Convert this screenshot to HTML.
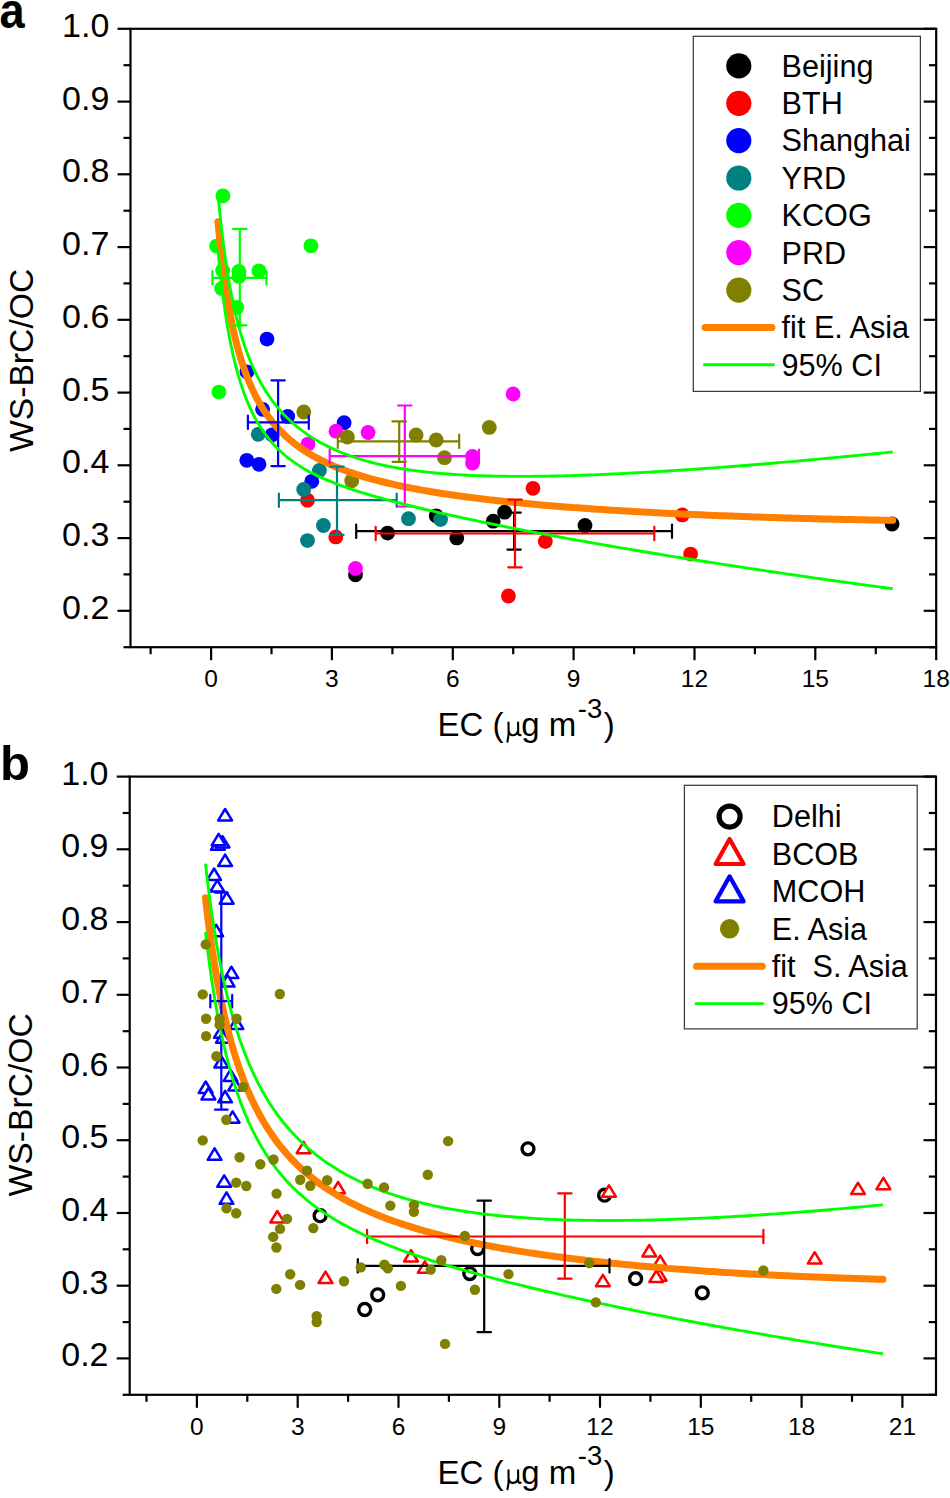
<!DOCTYPE html>
<html><head><meta charset="utf-8"><style>
html,body{margin:0;padding:0;background:#fff;width:950px;height:1498px;overflow:hidden;position:relative}
</style></head><body>
<svg width="950" height="1498" viewBox="0 0 950 1498" style="position:absolute;left:0;top:0">
<g font-family='"Liberation Sans", sans-serif' fill="#000">
<rect x="0" y="0" width="950" height="1498" fill="#fff"/>
<text transform="translate(-0.6,28.0) scale(0.942,1.058)" x="0" y="0" font-size="48" font-weight="bold">a</text>
<text x="0" y="780" font-size="49" font-weight="bold">b</text>
<rect x="130.5" y="28.8" width="805.7" height="618.4" fill="none" stroke="#000" stroke-width="2.2"/>
<line x1="123.5" y1="647.2" x2="130.5" y2="647.2" stroke="#000" stroke-width="2.2"/>
<line x1="929.0" y1="647.2" x2="936.2" y2="647.2" stroke="#000" stroke-width="2.2"/>
<line x1="117.5" y1="610.8" x2="130.5" y2="610.8" stroke="#000" stroke-width="2.2"/>
<line x1="923.7" y1="610.8" x2="936.2" y2="610.8" stroke="#000" stroke-width="2.2"/>
<text x="109.3" y="618.8" font-size="34" text-anchor="end">0.2</text>
<line x1="123.5" y1="574.4" x2="130.5" y2="574.4" stroke="#000" stroke-width="2.2"/>
<line x1="929.0" y1="574.4" x2="936.2" y2="574.4" stroke="#000" stroke-width="2.2"/>
<line x1="117.5" y1="538.1" x2="130.5" y2="538.1" stroke="#000" stroke-width="2.2"/>
<line x1="923.7" y1="538.1" x2="936.2" y2="538.1" stroke="#000" stroke-width="2.2"/>
<text x="109.3" y="546.1" font-size="34" text-anchor="end">0.3</text>
<line x1="123.5" y1="501.7" x2="130.5" y2="501.7" stroke="#000" stroke-width="2.2"/>
<line x1="929.0" y1="501.7" x2="936.2" y2="501.7" stroke="#000" stroke-width="2.2"/>
<line x1="117.5" y1="465.3" x2="130.5" y2="465.3" stroke="#000" stroke-width="2.2"/>
<line x1="923.7" y1="465.3" x2="936.2" y2="465.3" stroke="#000" stroke-width="2.2"/>
<text x="109.3" y="473.3" font-size="34" text-anchor="end">0.4</text>
<line x1="123.5" y1="428.9" x2="130.5" y2="428.9" stroke="#000" stroke-width="2.2"/>
<line x1="929.0" y1="428.9" x2="936.2" y2="428.9" stroke="#000" stroke-width="2.2"/>
<line x1="117.5" y1="392.6" x2="130.5" y2="392.6" stroke="#000" stroke-width="2.2"/>
<line x1="923.7" y1="392.6" x2="936.2" y2="392.6" stroke="#000" stroke-width="2.2"/>
<text x="109.3" y="400.6" font-size="34" text-anchor="end">0.5</text>
<line x1="123.5" y1="356.2" x2="130.5" y2="356.2" stroke="#000" stroke-width="2.2"/>
<line x1="929.0" y1="356.2" x2="936.2" y2="356.2" stroke="#000" stroke-width="2.2"/>
<line x1="117.5" y1="319.8" x2="130.5" y2="319.8" stroke="#000" stroke-width="2.2"/>
<line x1="923.7" y1="319.8" x2="936.2" y2="319.8" stroke="#000" stroke-width="2.2"/>
<text x="109.3" y="327.8" font-size="34" text-anchor="end">0.6</text>
<line x1="123.5" y1="283.4" x2="130.5" y2="283.4" stroke="#000" stroke-width="2.2"/>
<line x1="929.0" y1="283.4" x2="936.2" y2="283.4" stroke="#000" stroke-width="2.2"/>
<line x1="117.5" y1="247.1" x2="130.5" y2="247.1" stroke="#000" stroke-width="2.2"/>
<line x1="923.7" y1="247.1" x2="936.2" y2="247.1" stroke="#000" stroke-width="2.2"/>
<text x="109.3" y="255.1" font-size="34" text-anchor="end">0.7</text>
<line x1="123.5" y1="210.7" x2="130.5" y2="210.7" stroke="#000" stroke-width="2.2"/>
<line x1="929.0" y1="210.7" x2="936.2" y2="210.7" stroke="#000" stroke-width="2.2"/>
<line x1="117.5" y1="174.3" x2="130.5" y2="174.3" stroke="#000" stroke-width="2.2"/>
<line x1="923.7" y1="174.3" x2="936.2" y2="174.3" stroke="#000" stroke-width="2.2"/>
<text x="109.3" y="182.3" font-size="34" text-anchor="end">0.8</text>
<line x1="123.5" y1="137.9" x2="130.5" y2="137.9" stroke="#000" stroke-width="2.2"/>
<line x1="929.0" y1="137.9" x2="936.2" y2="137.9" stroke="#000" stroke-width="2.2"/>
<line x1="117.5" y1="101.6" x2="130.5" y2="101.6" stroke="#000" stroke-width="2.2"/>
<line x1="923.7" y1="101.6" x2="936.2" y2="101.6" stroke="#000" stroke-width="2.2"/>
<text x="109.3" y="109.6" font-size="34" text-anchor="end">0.9</text>
<line x1="123.5" y1="65.2" x2="130.5" y2="65.2" stroke="#000" stroke-width="2.2"/>
<line x1="929.0" y1="65.2" x2="936.2" y2="65.2" stroke="#000" stroke-width="2.2"/>
<line x1="117.5" y1="28.8" x2="130.5" y2="28.8" stroke="#000" stroke-width="2.2"/>
<line x1="923.7" y1="28.8" x2="936.2" y2="28.8" stroke="#000" stroke-width="2.2"/>
<text x="109.3" y="36.8" font-size="34" text-anchor="end">1.0</text>
<line x1="211.1" y1="647.2" x2="211.1" y2="660.2" stroke="#000" stroke-width="2.2"/>
<text x="211.1" y="686.7" font-size="24.5" text-anchor="middle">0</text>
<line x1="331.9" y1="647.2" x2="331.9" y2="660.2" stroke="#000" stroke-width="2.2"/>
<text x="331.9" y="686.7" font-size="24.5" text-anchor="middle">3</text>
<line x1="452.8" y1="647.2" x2="452.8" y2="660.2" stroke="#000" stroke-width="2.2"/>
<text x="452.8" y="686.7" font-size="24.5" text-anchor="middle">6</text>
<line x1="573.6" y1="647.2" x2="573.6" y2="660.2" stroke="#000" stroke-width="2.2"/>
<text x="573.6" y="686.7" font-size="24.5" text-anchor="middle">9</text>
<line x1="694.5" y1="647.2" x2="694.5" y2="660.2" stroke="#000" stroke-width="2.2"/>
<text x="694.5" y="686.7" font-size="24.5" text-anchor="middle">12</text>
<line x1="815.3" y1="647.2" x2="815.3" y2="660.2" stroke="#000" stroke-width="2.2"/>
<text x="815.3" y="686.7" font-size="24.5" text-anchor="middle">15</text>
<line x1="936.2" y1="647.2" x2="936.2" y2="660.2" stroke="#000" stroke-width="2.2"/>
<text x="936.2" y="686.7" font-size="24.5" text-anchor="middle">18</text>
<line x1="150.6" y1="647.2" x2="150.6" y2="654.2" stroke="#000" stroke-width="2.2"/>
<line x1="271.5" y1="647.2" x2="271.5" y2="654.2" stroke="#000" stroke-width="2.2"/>
<line x1="392.4" y1="647.2" x2="392.4" y2="654.2" stroke="#000" stroke-width="2.2"/>
<line x1="513.2" y1="647.2" x2="513.2" y2="654.2" stroke="#000" stroke-width="2.2"/>
<line x1="634.1" y1="647.2" x2="634.1" y2="654.2" stroke="#000" stroke-width="2.2"/>
<line x1="754.9" y1="647.2" x2="754.9" y2="654.2" stroke="#000" stroke-width="2.2"/>
<line x1="875.8" y1="647.2" x2="875.8" y2="654.2" stroke="#000" stroke-width="2.2"/>
<rect x="129.7" y="776.6" width="806.3" height="618.2" fill="none" stroke="#000" stroke-width="2.2"/>
<line x1="122.7" y1="1394.8" x2="129.7" y2="1394.8" stroke="#000" stroke-width="2.2"/>
<line x1="928.8" y1="1394.8" x2="936.0" y2="1394.8" stroke="#000" stroke-width="2.2"/>
<line x1="116.7" y1="1358.4" x2="129.7" y2="1358.4" stroke="#000" stroke-width="2.2"/>
<line x1="923.5" y1="1358.4" x2="936.0" y2="1358.4" stroke="#000" stroke-width="2.2"/>
<text x="108.5" y="1366.4" font-size="34" text-anchor="end">0.2</text>
<line x1="122.7" y1="1322.1" x2="129.7" y2="1322.1" stroke="#000" stroke-width="2.2"/>
<line x1="928.8" y1="1322.1" x2="936.0" y2="1322.1" stroke="#000" stroke-width="2.2"/>
<line x1="116.7" y1="1285.7" x2="129.7" y2="1285.7" stroke="#000" stroke-width="2.2"/>
<line x1="923.5" y1="1285.7" x2="936.0" y2="1285.7" stroke="#000" stroke-width="2.2"/>
<text x="108.5" y="1293.7" font-size="34" text-anchor="end">0.3</text>
<line x1="122.7" y1="1249.3" x2="129.7" y2="1249.3" stroke="#000" stroke-width="2.2"/>
<line x1="928.8" y1="1249.3" x2="936.0" y2="1249.3" stroke="#000" stroke-width="2.2"/>
<line x1="116.7" y1="1213.0" x2="129.7" y2="1213.0" stroke="#000" stroke-width="2.2"/>
<line x1="923.5" y1="1213.0" x2="936.0" y2="1213.0" stroke="#000" stroke-width="2.2"/>
<text x="108.5" y="1221.0" font-size="34" text-anchor="end">0.4</text>
<line x1="122.7" y1="1176.6" x2="129.7" y2="1176.6" stroke="#000" stroke-width="2.2"/>
<line x1="928.8" y1="1176.6" x2="936.0" y2="1176.6" stroke="#000" stroke-width="2.2"/>
<line x1="116.7" y1="1140.2" x2="129.7" y2="1140.2" stroke="#000" stroke-width="2.2"/>
<line x1="923.5" y1="1140.2" x2="936.0" y2="1140.2" stroke="#000" stroke-width="2.2"/>
<text x="108.5" y="1148.2" font-size="34" text-anchor="end">0.5</text>
<line x1="122.7" y1="1103.9" x2="129.7" y2="1103.9" stroke="#000" stroke-width="2.2"/>
<line x1="928.8" y1="1103.9" x2="936.0" y2="1103.9" stroke="#000" stroke-width="2.2"/>
<line x1="116.7" y1="1067.5" x2="129.7" y2="1067.5" stroke="#000" stroke-width="2.2"/>
<line x1="923.5" y1="1067.5" x2="936.0" y2="1067.5" stroke="#000" stroke-width="2.2"/>
<text x="108.5" y="1075.5" font-size="34" text-anchor="end">0.6</text>
<line x1="122.7" y1="1031.2" x2="129.7" y2="1031.2" stroke="#000" stroke-width="2.2"/>
<line x1="928.8" y1="1031.2" x2="936.0" y2="1031.2" stroke="#000" stroke-width="2.2"/>
<line x1="116.7" y1="994.8" x2="129.7" y2="994.8" stroke="#000" stroke-width="2.2"/>
<line x1="923.5" y1="994.8" x2="936.0" y2="994.8" stroke="#000" stroke-width="2.2"/>
<text x="108.5" y="1002.8" font-size="34" text-anchor="end">0.7</text>
<line x1="122.7" y1="958.4" x2="129.7" y2="958.4" stroke="#000" stroke-width="2.2"/>
<line x1="928.8" y1="958.4" x2="936.0" y2="958.4" stroke="#000" stroke-width="2.2"/>
<line x1="116.7" y1="922.1" x2="129.7" y2="922.1" stroke="#000" stroke-width="2.2"/>
<line x1="923.5" y1="922.1" x2="936.0" y2="922.1" stroke="#000" stroke-width="2.2"/>
<text x="108.5" y="930.1" font-size="34" text-anchor="end">0.8</text>
<line x1="122.7" y1="885.7" x2="129.7" y2="885.7" stroke="#000" stroke-width="2.2"/>
<line x1="928.8" y1="885.7" x2="936.0" y2="885.7" stroke="#000" stroke-width="2.2"/>
<line x1="116.7" y1="849.3" x2="129.7" y2="849.3" stroke="#000" stroke-width="2.2"/>
<line x1="923.5" y1="849.3" x2="936.0" y2="849.3" stroke="#000" stroke-width="2.2"/>
<text x="108.5" y="857.3" font-size="34" text-anchor="end">0.9</text>
<line x1="122.7" y1="813.0" x2="129.7" y2="813.0" stroke="#000" stroke-width="2.2"/>
<line x1="928.8" y1="813.0" x2="936.0" y2="813.0" stroke="#000" stroke-width="2.2"/>
<line x1="116.7" y1="776.6" x2="129.7" y2="776.6" stroke="#000" stroke-width="2.2"/>
<line x1="923.5" y1="776.6" x2="936.0" y2="776.6" stroke="#000" stroke-width="2.2"/>
<text x="108.5" y="784.6" font-size="34" text-anchor="end">1.0</text>
<line x1="196.9" y1="1394.8" x2="196.9" y2="1407.8" stroke="#000" stroke-width="2.2"/>
<text x="196.9" y="1435.3" font-size="24.5" text-anchor="middle">0</text>
<line x1="297.7" y1="1394.8" x2="297.7" y2="1407.8" stroke="#000" stroke-width="2.2"/>
<text x="297.7" y="1435.3" font-size="24.5" text-anchor="middle">3</text>
<line x1="398.5" y1="1394.8" x2="398.5" y2="1407.8" stroke="#000" stroke-width="2.2"/>
<text x="398.5" y="1435.3" font-size="24.5" text-anchor="middle">6</text>
<line x1="499.3" y1="1394.8" x2="499.3" y2="1407.8" stroke="#000" stroke-width="2.2"/>
<text x="499.3" y="1435.3" font-size="24.5" text-anchor="middle">9</text>
<line x1="600.0" y1="1394.8" x2="600.0" y2="1407.8" stroke="#000" stroke-width="2.2"/>
<text x="600.0" y="1435.3" font-size="24.5" text-anchor="middle">12</text>
<line x1="700.8" y1="1394.8" x2="700.8" y2="1407.8" stroke="#000" stroke-width="2.2"/>
<text x="700.8" y="1435.3" font-size="24.5" text-anchor="middle">15</text>
<line x1="801.6" y1="1394.8" x2="801.6" y2="1407.8" stroke="#000" stroke-width="2.2"/>
<text x="801.6" y="1435.3" font-size="24.5" text-anchor="middle">18</text>
<line x1="902.4" y1="1394.8" x2="902.4" y2="1407.8" stroke="#000" stroke-width="2.2"/>
<text x="902.4" y="1435.3" font-size="24.5" text-anchor="middle">21</text>
<line x1="146.5" y1="1394.8" x2="146.5" y2="1401.8" stroke="#000" stroke-width="2.2"/>
<line x1="247.3" y1="1394.8" x2="247.3" y2="1401.8" stroke="#000" stroke-width="2.2"/>
<line x1="348.1" y1="1394.8" x2="348.1" y2="1401.8" stroke="#000" stroke-width="2.2"/>
<line x1="448.9" y1="1394.8" x2="448.9" y2="1401.8" stroke="#000" stroke-width="2.2"/>
<line x1="549.6" y1="1394.8" x2="549.6" y2="1401.8" stroke="#000" stroke-width="2.2"/>
<line x1="650.4" y1="1394.8" x2="650.4" y2="1401.8" stroke="#000" stroke-width="2.2"/>
<line x1="751.2" y1="1394.8" x2="751.2" y2="1401.8" stroke="#000" stroke-width="2.2"/>
<line x1="852.0" y1="1394.8" x2="852.0" y2="1401.8" stroke="#000" stroke-width="2.2"/>
<text transform="translate(32.8,360.4) rotate(-90)" font-size="33.7" text-anchor="middle">WS-BrC/OC</text>
<text transform="translate(31.6,1104.8) rotate(-90)" font-size="33.7" text-anchor="middle">WS-BrC/OC</text>
<text x="437.5" y="735.8" font-size="33">EC (<tspan font-family="Liberation Serif" font-size="33" fill-opacity="0">&#956;</tspan>g m<tspan font-size="27.5" dx="1.5" dy="-18.2">-3</tspan><tspan dx="1.5" dy="18.2">)</tspan></text>
<path d="M508.5,722.6 L508.6,733.2 C508.5,737.5 507.6,739.8 507.5,741.6 M508.7,731.0 C509.3,734.3 511.2,735.4 513.2,735.2 C515.6,735.0 517.6,733.2 518.1,730.5 M518.1,722.6 L518.2,733.2 C518.4,734.9 519.3,735.4 520.6,735.0" fill="none" stroke="#000" stroke-width="2.1" stroke-linecap="round"/>
<text x="437.5" y="1483.5" font-size="33">EC (<tspan font-family="Liberation Serif" font-size="33" fill-opacity="0">&#956;</tspan>g m<tspan font-size="27.5" dx="1.5" dy="-18.2">-3</tspan><tspan dx="1.5" dy="18.2">)</tspan></text>
<path d="M508.5,1470.3 L508.6,1480.9 C508.5,1485.2 507.6,1487.5 507.5,1489.3 M508.7,1478.7 C509.3,1482.0 511.2,1483.1 513.2,1482.9 C515.6,1482.7 517.6,1480.9 518.1,1478.2 M518.1,1470.3 L518.2,1480.9 C518.4,1482.6 519.3,1483.1 520.6,1482.7" fill="none" stroke="#000" stroke-width="2.1" stroke-linecap="round"/>
<circle cx="355.5" cy="574.8" r="7.4" fill="#000000"/>
<circle cx="387.6" cy="533.1" r="7.4" fill="#000000"/>
<circle cx="436.2" cy="515.8" r="7.4" fill="#000000"/>
<circle cx="456.8" cy="537.9" r="7.4" fill="#000000"/>
<circle cx="493.2" cy="521.2" r="7.4" fill="#000000"/>
<circle cx="504.6" cy="512.2" r="7.4" fill="#000000"/>
<circle cx="585" cy="525.5" r="7.4" fill="#000000"/>
<circle cx="892.1" cy="524" r="7.4" fill="#000000"/>
<circle cx="307.5" cy="500.2" r="7.4" fill="#ff0000"/>
<circle cx="335.8" cy="536.9" r="7.4" fill="#ff0000"/>
<circle cx="533" cy="488.3" r="7.4" fill="#ff0000"/>
<circle cx="545.3" cy="541.6" r="7.4" fill="#ff0000"/>
<circle cx="508.4" cy="596" r="7.4" fill="#ff0000"/>
<circle cx="682.3" cy="514.9" r="7.4" fill="#ff0000"/>
<circle cx="690.6" cy="554.1" r="7.4" fill="#ff0000"/>
<circle cx="267.0" cy="339.1" r="7.4" fill="#0000ff"/>
<circle cx="246.9" cy="371.8" r="7.4" fill="#0000ff"/>
<circle cx="262.6" cy="409.3" r="7.4" fill="#0000ff"/>
<circle cx="287.7" cy="416.4" r="7.4" fill="#0000ff"/>
<circle cx="272.2" cy="434.8" r="7.4" fill="#0000ff"/>
<circle cx="344.1" cy="422.7" r="7.4" fill="#0000ff"/>
<circle cx="246.8" cy="460.3" r="7.4" fill="#0000ff"/>
<circle cx="259" cy="464.3" r="7.4" fill="#0000ff"/>
<circle cx="311.8" cy="481.3" r="7.4" fill="#0000ff"/>
<circle cx="258.2" cy="434.3" r="7.4" fill="#008080"/>
<circle cx="319.4" cy="470.4" r="7.4" fill="#008080"/>
<circle cx="303.7" cy="489.4" r="7.4" fill="#008080"/>
<circle cx="323.4" cy="525.5" r="7.4" fill="#008080"/>
<circle cx="307.5" cy="540.6" r="7.4" fill="#008080"/>
<circle cx="408.5" cy="518.7" r="7.4" fill="#008080"/>
<circle cx="440.6" cy="519.6" r="7.4" fill="#008080"/>
<circle cx="222.9" cy="195.8" r="7.4" fill="#00ff00"/>
<circle cx="216.6" cy="246.1" r="7.4" fill="#00ff00"/>
<circle cx="310.9" cy="245.8" r="7.4" fill="#00ff00"/>
<circle cx="222.6" cy="270.5" r="7.4" fill="#00ff00"/>
<circle cx="238.9" cy="271.3" r="7.4" fill="#00ff00"/>
<circle cx="238.9" cy="276.4" r="7.4" fill="#00ff00"/>
<circle cx="258.9" cy="270.8" r="7.4" fill="#00ff00"/>
<circle cx="221.6" cy="288.4" r="7.4" fill="#00ff00"/>
<circle cx="236.8" cy="307.4" r="7.4" fill="#00ff00"/>
<circle cx="218.9" cy="392.1" r="7.4" fill="#00ff00"/>
<circle cx="336" cy="431.2" r="7.4" fill="#ff00ff"/>
<circle cx="368.1" cy="432.5" r="7.4" fill="#ff00ff"/>
<circle cx="308" cy="444.1" r="7.4" fill="#ff00ff"/>
<circle cx="355.5" cy="568.4" r="7.4" fill="#ff00ff"/>
<circle cx="472.5" cy="456.5" r="7.4" fill="#ff00ff"/>
<circle cx="472.5" cy="463" r="7.4" fill="#ff00ff"/>
<circle cx="513.1" cy="394" r="7.4" fill="#ff00ff"/>
<circle cx="303.8" cy="412" r="7.4" fill="#808000"/>
<circle cx="347.4" cy="437.1" r="7.4" fill="#808000"/>
<circle cx="351.7" cy="480.8" r="7.4" fill="#808000"/>
<circle cx="416.1" cy="435" r="7.4" fill="#808000"/>
<circle cx="436.2" cy="440" r="7.4" fill="#808000"/>
<circle cx="444.5" cy="457.7" r="7.4" fill="#808000"/>
<circle cx="489.3" cy="427.4" r="7.4" fill="#808000"/>
<path d="M218.00,221.82 L218.51,227.36 L219.01,232.69 L219.52,237.83 L220.03,242.78 L220.54,247.57 L221.05,252.19 L221.55,256.66 L222.06,260.98 L222.57,265.16 L223.08,269.21 L223.58,273.13 L224.09,276.93 L224.60,280.62 L225.11,284.19 L225.62,287.66 L226.12,291.03 L226.63,294.30 L227.14,297.49 L227.65,300.58 L228.15,303.58 L228.66,306.51 L229.17,309.36 L229.68,312.13 L230.19,314.83 L230.69,317.46 L231.20,320.03 L231.71,322.53 L232.22,324.97 L232.73,327.35 L233.23,329.67 L233.74,331.94 L234.25,334.16 L234.76,336.32 L235.26,338.43 L235.77,340.50 L236.28,342.52 L236.79,344.50 L237.30,346.43 L237.80,348.32 L238.31,350.17 L238.82,351.98 L239.33,353.75 L239.83,355.49 L240.34,357.19 L240.85,358.85 L241.36,360.49 L241.87,362.09 L242.37,363.66 L242.88,365.19 L243.39,366.70 L243.90,368.18 L244.40,369.64 L244.91,371.06 L245.42,372.46 L245.93,373.83 L246.44,375.18 L246.94,376.50 L247.45,377.80 L247.96,379.08 L248.47,380.33 L248.97,381.57 L249.48,382.78 L249.99,383.97 L250.50,385.14 L251.01,386.29 L251.51,387.43 L252.02,388.54 L252.53,389.64 L253.04,390.71 L253.54,391.77 L254.05,392.82 L254.56,393.85 L255.07,394.86 L255.58,395.85 L256.08,396.83 L256.59,397.80 L257.10,398.75 L257.61,399.69 L258.11,400.61 L258.62,401.52 L259.13,402.41 L259.64,403.30 L260.15,404.16 L260.65,405.02 L261.16,405.87 L261.67,406.70 L262.18,407.52 L262.68,408.33 L263.19,409.13 L263.70,409.92 L264.21,410.70 L264.72,411.46 L265.22,412.22 L265.73,412.97 L266.24,413.70 L266.75,414.43 L267.26,415.15 L267.76,415.86 L268.27,416.56 L268.78,417.25 L269.29,417.93 L269.79,418.60 L270.30,419.27 L270.81,419.92 L271.32,420.57 L271.83,421.21 L272.33,421.84 L272.84,422.47 L273.35,423.09 L273.86,423.70 L274.36,424.30 L274.87,424.89 L275.38,425.48 L275.89,426.06 L276.40,426.64 L276.90,427.21 L277.41,427.77 L277.92,428.33 L278.43,428.87 L281.51,432.09 L284.60,435.09 L287.69,437.91 L290.77,440.57 L293.86,443.07 L296.95,445.43 L300.03,447.66 L303.12,449.77 L306.21,451.78 L309.29,453.69 L312.38,455.50 L315.47,457.23 L318.55,458.88 L321.64,460.46 L324.73,461.97 L327.81,463.42 L330.90,464.80 L333.99,466.13 L337.08,467.41 L340.16,468.64 L343.25,469.83 L346.34,470.97 L349.42,472.07 L352.51,473.13 L355.60,474.15 L358.68,475.14 L361.77,476.10 L364.86,477.03 L367.94,477.92 L371.03,478.79 L374.12,479.64 L377.20,480.45 L380.29,481.25 L383.38,482.02 L386.46,482.77 L389.55,483.50 L392.64,484.21 L395.72,484.90 L398.81,485.57 L401.90,486.22 L404.98,486.86 L408.07,487.48 L411.16,488.09 L414.24,488.68 L417.33,489.26 L420.42,489.82 L423.50,490.37 L426.59,490.91 L429.68,491.44 L432.76,491.95 L435.85,492.46 L438.94,492.95 L442.02,493.43 L445.11,493.90 L448.20,494.36 L451.29,494.82 L454.37,495.26 L457.46,495.70 L460.55,496.12 L463.63,496.54 L466.72,496.95 L469.81,497.35 L472.89,497.75 L475.98,498.13 L479.07,498.51 L482.15,498.89 L485.24,499.25 L488.33,499.61 L491.41,499.97 L494.50,500.32 L497.59,500.66 L500.67,500.99 L503.76,501.32 L506.85,501.65 L509.93,501.97 L513.02,502.28 L516.11,502.59 L519.19,502.89 L522.28,503.19 L525.37,503.49 L528.45,503.78 L531.54,504.06 L534.63,504.34 L537.71,504.62 L540.80,504.89 L543.89,505.16 L546.97,505.42 L550.06,505.68 L553.15,505.94 L556.24,506.19 L559.32,506.44 L562.41,506.69 L565.50,506.93 L568.58,507.17 L571.67,507.40 L574.76,507.63 L577.84,507.86 L580.93,508.09 L584.02,508.31 L587.10,508.53 L590.19,508.74 L593.28,508.95 L596.36,509.16 L599.45,509.37 L602.54,509.58 L605.62,509.78 L608.71,509.98 L611.80,510.17 L614.88,510.37 L617.97,510.56 L621.06,510.74 L624.14,510.93 L627.23,511.11 L630.32,511.29 L633.40,511.47 L636.49,511.65 L639.58,511.82 L642.66,511.99 L645.75,512.16 L648.84,512.33 L651.92,512.50 L655.01,512.66 L658.10,512.82 L661.19,512.98 L664.27,513.13 L667.36,513.29 L670.45,513.44 L673.53,513.59 L676.62,513.74 L679.71,513.89 L682.79,514.03 L685.88,514.18 L688.97,514.32 L692.05,514.46 L695.14,514.59 L698.23,514.73 L701.31,514.86 L704.40,515.00 L707.49,515.13 L710.57,515.26 L713.66,515.38 L716.75,515.51 L719.83,515.63 L722.92,515.75 L726.01,515.87 L729.09,515.99 L732.18,516.11 L735.27,516.23 L738.35,516.34 L741.44,516.45 L744.53,516.57 L747.61,516.68 L750.70,516.78 L753.79,516.89 L756.87,517.00 L759.96,517.10 L763.05,517.20 L766.13,517.30 L769.22,517.40 L772.31,517.50 L775.40,517.60 L778.48,517.69 L781.57,517.79 L784.66,517.88 L787.74,517.97 L790.83,518.06 L793.92,518.15 L797.00,518.24 L800.09,518.33 L803.18,518.41 L806.26,518.50 L809.35,518.58 L812.44,518.66 L815.52,518.74 L818.61,518.82 L821.70,518.90 L824.78,518.97 L827.87,519.05 L830.96,519.12 L834.04,519.19 L837.13,519.27 L840.22,519.34 L843.30,519.41 L846.39,519.47 L849.48,519.54 L852.56,519.61 L855.65,519.67 L858.74,519.74 L861.82,519.80 L864.91,519.86 L868.00,519.92 L871.08,519.98 L874.17,520.04 L877.26,520.10 L880.35,520.15 L883.43,520.21 L886.52,520.26 L889.61,520.31 L892.69,520.37" fill="none" stroke="#ff8000" stroke-width="7" stroke-linecap="round" stroke-linejoin="round"/>
<path d="M514.1,512.7 L514.1,549.6 M507.4,512.7 L520.8,512.7 M507.4,549.6 L520.8,549.6 M356.2,531.2 L672.0,531.2 M356.2,524.5 L356.2,537.9 M672.0,524.5 L672.0,537.9" fill="none" stroke="#000000" stroke-width="2.2" stroke-linecap="round"/>
<path d="M515.0,499.7 L515.0,567.3 M508.3,499.7 L521.7,499.7 M508.3,567.3 L521.7,567.3 M375.7,533.5 L654.3,533.5 M375.7,526.8 L375.7,540.2 M654.3,526.8 L654.3,540.2" fill="none" stroke="#ff0000" stroke-width="2.2" stroke-linecap="round"/>
<path d="M278.1,380.3 L278.1,466.1 M271.4,380.3 L284.8,380.3 M271.4,466.1 L284.8,466.1 M247.9,422.3 L308.8,422.3 M247.9,415.6 L247.9,429.0 M308.8,415.6 L308.8,429.0" fill="none" stroke="#0000ff" stroke-width="2.2" stroke-linecap="round"/>
<path d="M337.0,466.6 L337.0,534.8 M330.3,466.6 L343.7,466.6 M330.3,534.8 L343.7,534.8 M278.9,500.2 L396.7,500.2 M278.9,493.5 L278.9,506.9 M396.7,493.5 L396.7,506.9" fill="none" stroke="#008080" stroke-width="2.2" stroke-linecap="round"/>
<path d="M239.8,228.9 L239.8,325.3 M233.1,228.9 L246.5,228.9 M233.1,325.3 L246.5,325.3 M212.4,277.9 L266.5,277.9 M212.4,271.2 L212.4,284.6 M266.5,271.2 L266.5,284.6" fill="none" stroke="#00ff00" stroke-width="2.2" stroke-linecap="round"/>
<path d="M404.8,405.5 L404.8,506.5 M398.1,405.5 L411.5,405.5 M398.1,506.5 L411.5,506.5 M329.7,456.2 L479.0,456.2 M329.7,449.5 L329.7,462.9 M479.0,449.5 L479.0,462.9" fill="none" stroke="#ff00ff" stroke-width="2.2" stroke-linecap="round"/>
<path d="M399.2,421.4 L399.2,461.8 M392.5,421.4 L405.9,421.4 M392.5,461.8 L405.9,461.8 M337.8,441.4 L459.2,441.4 M337.8,434.7 L337.8,448.1 M459.2,434.7 L459.2,448.1" fill="none" stroke="#808000" stroke-width="2.2" stroke-linecap="round"/>
<path d="M218.00,193.56 L218.51,199.17 L219.01,204.58 L219.52,209.80 L220.03,214.83 L220.54,219.70 L221.05,224.40 L221.55,228.94 L222.06,233.34 L222.57,237.60 L223.08,241.73 L223.58,245.72 L224.09,249.60 L224.60,253.36 L225.11,257.01 L225.62,260.56 L226.12,264.00 L226.63,267.35 L227.14,270.61 L227.65,273.77 L228.15,276.86 L228.66,279.86 L229.17,282.78 L229.68,285.62 L230.19,288.40 L230.69,291.10 L231.20,293.74 L231.71,296.32 L232.22,298.83 L232.73,301.28 L233.23,303.68 L233.74,306.02 L234.25,308.31 L234.76,310.54 L235.26,312.73 L235.77,314.86 L236.28,316.95 L236.79,319.00 L237.30,321.00 L237.80,322.96 L238.31,324.88 L238.82,326.76 L239.33,328.61 L239.83,330.41 L240.34,332.18 L240.85,333.92 L241.36,335.62 L241.87,337.29 L242.37,338.93 L242.88,340.53 L243.39,342.11 L243.90,343.66 L244.40,345.18 L244.91,346.67 L245.42,348.13 L245.93,349.57 L246.44,350.99 L246.94,352.38 L247.45,353.74 L247.96,355.09 L248.47,356.41 L248.97,357.70 L249.48,358.98 L249.99,360.24 L250.50,361.47 L251.01,362.69 L251.51,363.89 L252.02,365.06 L252.53,366.22 L253.04,367.36 L253.54,368.49 L254.05,369.59 L254.56,370.69 L255.07,371.76 L255.58,372.82 L256.08,373.86 L256.59,374.89 L257.10,375.90 L257.61,376.90 L258.11,377.88 L258.62,378.85 L259.13,379.81 L259.64,380.75 L260.15,381.68 L260.65,382.60 L261.16,383.50 L261.67,384.39 L262.18,385.27 L262.68,386.14 L263.19,387.00 L263.70,387.85 L264.21,388.68 L264.72,389.51 L265.22,390.32 L265.73,391.12 L266.24,391.92 L266.75,392.70 L267.26,393.48 L267.76,394.24 L268.27,395.00 L268.78,395.74 L269.29,396.48 L269.79,397.21 L270.30,397.93 L270.81,398.64 L271.32,399.34 L271.83,400.03 L272.33,400.72 L272.84,401.40 L273.35,402.07 L273.86,402.73 L274.36,403.39 L274.87,404.04 L275.38,404.68 L275.89,405.31 L276.40,405.94 L276.90,406.56 L277.41,407.17 L277.92,407.78 L278.43,408.38 L281.51,411.89 L284.60,415.19 L287.69,418.29 L290.77,421.21 L293.86,423.97 L296.95,426.58 L300.03,429.05 L303.12,431.39 L306.21,433.61 L309.29,435.72 L312.38,437.72 L315.47,439.63 L318.55,441.45 L321.64,443.18 L324.73,444.83 L327.81,446.40 L330.90,447.90 L333.99,449.34 L337.08,450.71 L340.16,452.01 L343.25,453.26 L346.34,454.45 L349.42,455.59 L352.51,456.68 L355.60,457.72 L358.68,458.72 L361.77,459.67 L364.86,460.58 L367.94,461.44 L371.03,462.27 L374.12,463.06 L377.20,463.82 L380.29,464.54 L383.38,465.23 L386.46,465.89 L389.55,466.52 L392.64,467.12 L395.72,467.69 L398.81,468.23 L401.90,468.75 L404.98,469.24 L408.07,469.71 L411.16,470.16 L414.24,470.59 L417.33,470.99 L420.42,471.38 L423.50,471.75 L426.59,472.09 L429.68,472.42 L432.76,472.73 L435.85,473.03 L438.94,473.31 L442.02,473.57 L445.11,473.82 L448.20,474.05 L451.29,474.27 L454.37,474.48 L457.46,474.67 L460.55,474.86 L463.63,475.02 L466.72,475.18 L469.81,475.33 L472.89,475.46 L475.98,475.59 L479.07,475.70 L482.15,475.81 L485.24,475.90 L488.33,475.99 L491.41,476.06 L494.50,476.13 L497.59,476.19 L500.67,476.24 L503.76,476.28 L506.85,476.32 L509.93,476.35 L513.02,476.37 L516.11,476.38 L519.19,476.39 L522.28,476.38 L525.37,476.38 L528.45,476.36 L531.54,476.34 L534.63,476.32 L537.71,476.29 L540.80,476.25 L543.89,476.20 L546.97,476.15 L550.06,476.10 L553.15,476.04 L556.24,475.98 L559.32,475.91 L562.41,475.83 L565.50,475.75 L568.58,475.67 L571.67,475.58 L574.76,475.49 L577.84,475.39 L580.93,475.29 L584.02,475.18 L587.10,475.07 L590.19,474.96 L593.28,474.84 L596.36,474.72 L599.45,474.59 L602.54,474.46 L605.62,474.33 L608.71,474.20 L611.80,474.06 L614.88,473.91 L617.97,473.77 L621.06,473.62 L624.14,473.46 L627.23,473.31 L630.32,473.15 L633.40,472.99 L636.49,472.82 L639.58,472.65 L642.66,472.48 L645.75,472.31 L648.84,472.13 L651.92,471.95 L655.01,471.77 L658.10,471.59 L661.19,471.40 L664.27,471.21 L667.36,471.02 L670.45,470.82 L673.53,470.62 L676.62,470.42 L679.71,470.22 L682.79,470.02 L685.88,469.81 L688.97,469.60 L692.05,469.39 L695.14,469.18 L698.23,468.96 L701.31,468.75 L704.40,468.53 L707.49,468.30 L710.57,468.08 L713.66,467.85 L716.75,467.63 L719.83,467.40 L722.92,467.16 L726.01,466.93 L729.09,466.69 L732.18,466.46 L735.27,466.22 L738.35,465.98 L741.44,465.73 L744.53,465.49 L747.61,465.24 L750.70,464.99 L753.79,464.74 L756.87,464.49 L759.96,464.24 L763.05,463.98 L766.13,463.73 L769.22,463.47 L772.31,463.21 L775.40,462.95 L778.48,462.68 L781.57,462.42 L784.66,462.15 L787.74,461.88 L790.83,461.61 L793.92,461.34 L797.00,461.07 L800.09,460.80 L803.18,460.52 L806.26,460.24 L809.35,459.97 L812.44,459.69 L815.52,459.41 L818.61,459.12 L821.70,458.84 L824.78,458.55 L827.87,458.27 L830.96,457.98 L834.04,457.69 L837.13,457.40 L840.22,457.11 L843.30,456.81 L846.39,456.52 L849.48,456.22 L852.56,455.93 L855.65,455.63 L858.74,455.33 L861.82,455.03 L864.91,454.73 L868.00,454.42 L871.08,454.12 L874.17,453.81 L877.26,453.51 L880.35,453.20 L883.43,452.89 L886.52,452.58 L889.61,452.27 L892.69,451.96" fill="none" stroke="#00ff00" stroke-width="2.9" stroke-linejoin="round"/>
<path d="M218.00,250.09 L218.51,255.54 L219.01,260.79 L219.52,265.85 L220.03,270.73 L220.54,275.44 L221.05,279.99 L221.55,284.38 L222.06,288.62 L222.57,292.72 L223.08,296.70 L223.58,300.54 L224.09,304.27 L224.60,307.87 L225.11,311.37 L225.62,314.77 L226.12,318.06 L226.63,321.26 L227.14,324.36 L227.65,327.38 L228.15,330.31 L228.66,333.16 L229.17,335.94 L229.68,338.64 L230.19,341.27 L230.69,343.82 L231.20,346.32 L231.71,348.74 L232.22,351.11 L232.73,353.42 L233.23,355.67 L233.74,357.87 L234.25,360.01 L234.76,362.10 L235.26,364.14 L235.77,366.14 L236.28,368.09 L236.79,369.99 L237.30,371.85 L237.80,373.67 L238.31,375.45 L238.82,377.19 L239.33,378.90 L239.83,380.56 L240.34,382.19 L240.85,383.79 L241.36,385.35 L241.87,386.89 L242.37,388.39 L242.88,389.86 L243.39,391.30 L243.90,392.71 L244.40,394.09 L244.91,395.45 L245.42,396.78 L245.93,398.09 L246.44,399.37 L246.94,400.63 L247.45,401.86 L247.96,403.07 L248.47,404.26 L248.97,405.43 L249.48,406.58 L249.99,407.70 L250.50,408.81 L251.01,409.90 L251.51,410.97 L252.02,412.02 L252.53,413.05 L253.04,414.06 L253.54,415.06 L254.05,416.04 L254.56,417.01 L255.07,417.95 L255.58,418.89 L256.08,419.81 L256.59,420.71 L257.10,421.60 L257.61,422.47 L258.11,423.34 L258.62,424.18 L259.13,425.02 L259.64,425.84 L260.15,426.65 L260.65,427.45 L261.16,428.23 L261.67,429.01 L262.18,429.77 L262.68,430.52 L263.19,431.26 L263.70,431.99 L264.21,432.71 L264.72,433.42 L265.22,434.12 L265.73,434.81 L266.24,435.49 L266.75,436.16 L267.26,436.82 L267.76,437.47 L268.27,438.12 L268.78,438.75 L269.29,439.38 L269.79,439.99 L270.30,440.60 L270.81,441.21 L271.32,441.80 L271.83,442.39 L272.33,442.96 L272.84,443.54 L273.35,444.10 L273.86,444.66 L274.36,445.21 L274.87,445.75 L275.38,446.29 L275.89,446.82 L276.40,447.34 L276.90,447.86 L277.41,448.37 L277.92,448.87 L278.43,449.37 L281.51,452.28 L284.60,455.00 L287.69,457.54 L290.77,459.92 L293.86,462.16 L296.95,464.27 L300.03,466.27 L303.12,468.16 L306.21,469.95 L309.29,471.66 L312.38,473.28 L315.47,474.83 L318.55,476.32 L321.64,477.75 L324.73,479.12 L327.81,480.43 L330.90,481.70 L333.99,482.93 L337.08,484.12 L340.16,485.27 L343.25,486.39 L346.34,487.48 L349.42,488.54 L352.51,489.57 L355.60,490.58 L358.68,491.56 L361.77,492.53 L364.86,493.47 L367.94,494.40 L371.03,495.31 L374.12,496.21 L377.20,497.09 L380.29,497.95 L383.38,498.81 L386.46,499.65 L389.55,500.48 L392.64,501.30 L395.72,502.11 L398.81,502.91 L401.90,503.70 L404.98,504.48 L408.07,505.25 L411.16,506.01 L414.24,506.77 L417.33,507.52 L420.42,508.26 L423.50,509.00 L426.59,509.73 L429.68,510.45 L432.76,511.17 L435.85,511.88 L438.94,512.59 L442.02,513.29 L445.11,513.99 L448.20,514.68 L451.29,515.36 L454.37,516.04 L457.46,516.72 L460.55,517.39 L463.63,518.06 L466.72,518.72 L469.81,519.38 L472.89,520.03 L475.98,520.68 L479.07,521.33 L482.15,521.97 L485.24,522.61 L488.33,523.24 L491.41,523.87 L494.50,524.50 L497.59,525.12 L500.67,525.74 L503.76,526.36 L506.85,526.98 L509.93,527.59 L513.02,528.19 L516.11,528.80 L519.19,529.40 L522.28,530.00 L525.37,530.60 L528.45,531.19 L531.54,531.78 L534.63,532.37 L537.71,532.95 L540.80,533.53 L543.89,534.11 L546.97,534.69 L550.06,535.27 L553.15,535.84 L556.24,536.41 L559.32,536.98 L562.41,537.54 L565.50,538.10 L568.58,538.66 L571.67,539.22 L574.76,539.78 L577.84,540.33 L580.93,540.88 L584.02,541.43 L587.10,541.98 L590.19,542.53 L593.28,543.07 L596.36,543.61 L599.45,544.15 L602.54,544.69 L605.62,545.22 L608.71,545.76 L611.80,546.29 L614.88,546.82 L617.97,547.35 L621.06,547.87 L624.14,548.40 L627.23,548.92 L630.32,549.44 L633.40,549.96 L636.49,550.48 L639.58,550.99 L642.66,551.51 L645.75,552.02 L648.84,552.53 L651.92,553.04 L655.01,553.55 L658.10,554.05 L661.19,554.56 L664.27,555.06 L667.36,555.56 L670.45,556.06 L673.53,556.56 L676.62,557.06 L679.71,557.55 L682.79,558.05 L685.88,558.54 L688.97,559.03 L692.05,559.52 L695.14,560.01 L698.23,560.50 L701.31,560.98 L704.40,561.47 L707.49,561.95 L710.57,562.43 L713.66,562.91 L716.75,563.39 L719.83,563.87 L722.92,564.34 L726.01,564.82 L729.09,565.29 L732.18,565.77 L735.27,566.24 L738.35,566.71 L741.44,567.18 L744.53,567.64 L747.61,568.11 L750.70,568.57 L753.79,569.04 L756.87,569.50 L759.96,569.96 L763.05,570.42 L766.13,570.88 L769.22,571.34 L772.31,571.80 L775.40,572.25 L778.48,572.71 L781.57,573.16 L784.66,573.61 L787.74,574.06 L790.83,574.51 L793.92,574.96 L797.00,575.41 L800.09,575.86 L803.18,576.30 L806.26,576.75 L809.35,577.19 L812.44,577.63 L815.52,578.07 L818.61,578.51 L821.70,578.95 L824.78,579.39 L827.87,579.83 L830.96,580.26 L834.04,580.70 L837.13,581.13 L840.22,581.57 L843.30,582.00 L846.39,582.43 L849.48,582.86 L852.56,583.29 L855.65,583.72 L858.74,584.14 L861.82,584.57 L864.91,584.99 L868.00,585.42 L871.08,585.84 L874.17,586.26 L877.26,586.68 L880.35,587.10 L883.43,587.52 L886.52,587.94 L889.61,588.36 L892.69,588.78" fill="none" stroke="#00ff00" stroke-width="2.9" stroke-linejoin="round"/>
<circle cx="320.1" cy="1215.7" r="5.95" fill="#fff" stroke="#000" stroke-width="3.4"/>
<circle cx="377.7" cy="1294.8" r="5.95" fill="#fff" stroke="#000" stroke-width="3.4"/>
<circle cx="364.7" cy="1309.5" r="5.95" fill="#fff" stroke="#000" stroke-width="3.4"/>
<circle cx="469.8" cy="1273.6" r="5.95" fill="#fff" stroke="#000" stroke-width="3.4"/>
<circle cx="477.6" cy="1248.5" r="5.95" fill="#fff" stroke="#000" stroke-width="3.4"/>
<circle cx="528" cy="1148.8" r="5.95" fill="#fff" stroke="#000" stroke-width="3.4"/>
<circle cx="604.6" cy="1195.2" r="5.95" fill="#fff" stroke="#000" stroke-width="3.4"/>
<circle cx="635.6" cy="1278.7" r="5.95" fill="#fff" stroke="#000" stroke-width="3.4"/>
<circle cx="702.3" cy="1292.8" r="5.95" fill="#fff" stroke="#000" stroke-width="3.4"/>
<path d="M303.6,1141.8 L310.5,1153.2 L296.7,1153.2 Z" fill="#fff" stroke="#ff0000" stroke-width="2.5" stroke-linejoin="round"/>
<path d="M338.1,1181.9 L345.0,1193.3 L331.2,1193.3 Z" fill="#fff" stroke="#ff0000" stroke-width="2.5" stroke-linejoin="round"/>
<path d="M277.3,1211.0 L284.2,1222.4 L270.4,1222.4 Z" fill="#fff" stroke="#ff0000" stroke-width="2.5" stroke-linejoin="round"/>
<path d="M325.5,1271.6 L332.4,1283.0 L318.6,1283.0 Z" fill="#fff" stroke="#ff0000" stroke-width="2.5" stroke-linejoin="round"/>
<path d="M411.0,1250.1 L417.9,1261.5 L404.1,1261.5 Z" fill="#fff" stroke="#ff0000" stroke-width="2.5" stroke-linejoin="round"/>
<path d="M424.8,1261.3 L431.7,1272.7 L417.9,1272.7 Z" fill="#fff" stroke="#ff0000" stroke-width="2.5" stroke-linejoin="round"/>
<path d="M609.0,1185.3 L615.9,1196.7 L602.1,1196.7 Z" fill="#fff" stroke="#ff0000" stroke-width="2.5" stroke-linejoin="round"/>
<path d="M602.9,1274.8 L609.8,1286.2 L596.0,1286.2 Z" fill="#fff" stroke="#ff0000" stroke-width="2.5" stroke-linejoin="round"/>
<path d="M649.3,1245.0 L656.2,1256.4 L642.4,1256.4 Z" fill="#fff" stroke="#ff0000" stroke-width="2.5" stroke-linejoin="round"/>
<path d="M660.2,1255.6 L667.1,1267.0 L653.3,1267.0 Z" fill="#fff" stroke="#ff0000" stroke-width="2.5" stroke-linejoin="round"/>
<path d="M659.6,1269.3 L666.5,1280.7 L652.7,1280.7 Z" fill="#fff" stroke="#ff0000" stroke-width="2.5" stroke-linejoin="round"/>
<path d="M656.3,1270.6 L663.2,1282.0 L649.4,1282.0 Z" fill="#fff" stroke="#ff0000" stroke-width="2.5" stroke-linejoin="round"/>
<path d="M814.7,1252.2 L821.6,1263.6 L807.8,1263.6 Z" fill="#fff" stroke="#ff0000" stroke-width="2.5" stroke-linejoin="round"/>
<path d="M858.0,1182.7 L864.9,1194.1 L851.1,1194.1 Z" fill="#fff" stroke="#ff0000" stroke-width="2.5" stroke-linejoin="round"/>
<path d="M883.4,1177.8 L890.3,1189.2 L876.5,1189.2 Z" fill="#fff" stroke="#ff0000" stroke-width="2.5" stroke-linejoin="round"/>
<path d="M225.1,809.0 L232.0,820.4 L218.2,820.4 Z" fill="#fff" stroke="#0000ff" stroke-width="2.5" stroke-linejoin="round"/>
<path d="M217.9,838.3 L224.8,849.7 L211.0,849.7 Z" fill="#fff" stroke="#0000ff" stroke-width="2.5" stroke-linejoin="round"/>
<path d="M222.5,836.1 L229.4,847.5 L215.6,847.5 Z" fill="#fff" stroke="#0000ff" stroke-width="2.5" stroke-linejoin="round"/>
<path d="M218.6,833.9 L225.5,845.3 L211.7,845.3 Z" fill="#fff" stroke="#0000ff" stroke-width="2.5" stroke-linejoin="round"/>
<path d="M225.1,854.6 L232.0,866.0 L218.2,866.0 Z" fill="#fff" stroke="#0000ff" stroke-width="2.5" stroke-linejoin="round"/>
<path d="M214.1,868.5 L221.0,879.9 L207.2,879.9 Z" fill="#fff" stroke="#0000ff" stroke-width="2.5" stroke-linejoin="round"/>
<path d="M217.3,880.1 L224.2,891.5 L210.4,891.5 Z" fill="#fff" stroke="#0000ff" stroke-width="2.5" stroke-linejoin="round"/>
<path d="M226.7,892.3 L233.6,903.7 L219.8,903.7 Z" fill="#fff" stroke="#0000ff" stroke-width="2.5" stroke-linejoin="round"/>
<path d="M216.2,924.8 L223.1,936.2 L209.3,936.2 Z" fill="#fff" stroke="#0000ff" stroke-width="2.5" stroke-linejoin="round"/>
<path d="M231.4,966.7 L238.3,978.1 L224.5,978.1 Z" fill="#fff" stroke="#0000ff" stroke-width="2.5" stroke-linejoin="round"/>
<path d="M227.6,975.2 L234.5,986.6 L220.7,986.6 Z" fill="#fff" stroke="#0000ff" stroke-width="2.5" stroke-linejoin="round"/>
<path d="M236.4,1017.5 L243.3,1028.9 L229.5,1028.9 Z" fill="#fff" stroke="#0000ff" stroke-width="2.5" stroke-linejoin="round"/>
<path d="M221.0,1026.3 L227.9,1037.7 L214.1,1037.7 Z" fill="#fff" stroke="#0000ff" stroke-width="2.5" stroke-linejoin="round"/>
<path d="M223.0,1031.3 L229.9,1042.7 L216.1,1042.7 Z" fill="#fff" stroke="#0000ff" stroke-width="2.5" stroke-linejoin="round"/>
<path d="M221.3,1056.1 L228.2,1067.5 L214.4,1067.5 Z" fill="#fff" stroke="#0000ff" stroke-width="2.5" stroke-linejoin="round"/>
<path d="M230.5,1069.7 L237.4,1081.1 L223.6,1081.1 Z" fill="#fff" stroke="#0000ff" stroke-width="2.5" stroke-linejoin="round"/>
<path d="M235.2,1079.1 L242.1,1090.5 L228.3,1090.5 Z" fill="#fff" stroke="#0000ff" stroke-width="2.5" stroke-linejoin="round"/>
<path d="M205.7,1081.5 L212.6,1092.9 L198.8,1092.9 Z" fill="#fff" stroke="#0000ff" stroke-width="2.5" stroke-linejoin="round"/>
<path d="M208.4,1088.0 L215.3,1099.4 L201.5,1099.4 Z" fill="#fff" stroke="#0000ff" stroke-width="2.5" stroke-linejoin="round"/>
<path d="M225.1,1090.9 L232.0,1102.3 L218.2,1102.3 Z" fill="#fff" stroke="#0000ff" stroke-width="2.5" stroke-linejoin="round"/>
<path d="M232.6,1111.3 L239.5,1122.7 L225.7,1122.7 Z" fill="#fff" stroke="#0000ff" stroke-width="2.5" stroke-linejoin="round"/>
<path d="M214.6,1148.4 L221.5,1159.8 L207.7,1159.8 Z" fill="#fff" stroke="#0000ff" stroke-width="2.5" stroke-linejoin="round"/>
<path d="M224.2,1175.3 L231.1,1186.7 L217.3,1186.7 Z" fill="#fff" stroke="#0000ff" stroke-width="2.5" stroke-linejoin="round"/>
<path d="M226.5,1192.4 L233.4,1203.8 L219.6,1203.8 Z" fill="#fff" stroke="#0000ff" stroke-width="2.5" stroke-linejoin="round"/>
<path d="M205.49,897.80 L205.92,901.53 L206.34,905.19 L206.76,908.78 L207.19,912.31 L207.61,915.77 L208.03,919.17 L208.46,922.51 L208.88,925.79 L209.30,929.01 L209.73,932.18 L210.15,935.29 L210.57,938.34 L211.00,941.35 L211.42,944.30 L211.84,947.20 L212.27,950.06 L212.69,952.87 L213.11,955.63 L213.54,958.35 L213.96,961.02 L214.39,963.66 L214.81,966.25 L215.23,968.79 L215.66,971.30 L216.08,973.78 L216.50,976.21 L216.93,978.61 L217.35,980.97 L217.77,983.29 L218.20,985.58 L218.62,987.84 L219.04,990.06 L219.47,992.25 L219.89,994.41 L220.31,996.54 L220.74,998.64 L221.16,1000.71 L221.58,1002.75 L222.01,1004.76 L222.43,1006.75 L222.85,1008.70 L223.28,1010.63 L223.70,1012.54 L224.13,1014.42 L224.55,1016.27 L224.97,1018.10 L225.40,1019.91 L225.82,1021.69 L226.24,1023.45 L226.67,1025.18 L227.09,1026.90 L227.51,1028.59 L227.94,1030.26 L228.36,1031.91 L228.78,1033.54 L229.21,1035.15 L229.63,1036.74 L230.05,1038.31 L230.48,1039.86 L230.90,1041.39 L231.32,1042.90 L231.75,1044.40 L232.17,1045.88 L232.59,1047.34 L233.02,1048.78 L233.44,1050.21 L233.87,1051.62 L234.29,1053.01 L234.71,1054.39 L235.14,1055.75 L235.56,1057.10 L235.98,1058.43 L236.41,1059.75 L236.83,1061.05 L237.25,1062.34 L237.68,1063.61 L238.10,1064.87 L238.52,1066.12 L238.95,1067.35 L239.37,1068.57 L239.79,1069.78 L240.22,1070.98 L240.64,1072.16 L241.06,1073.33 L241.49,1074.48 L241.91,1075.63 L242.33,1076.76 L242.76,1077.88 L243.18,1078.99 L243.61,1080.09 L244.03,1081.18 L244.45,1082.26 L244.88,1083.32 L245.30,1084.38 L245.72,1085.42 L246.15,1086.46 L246.57,1087.48 L246.99,1088.50 L247.42,1089.50 L247.84,1090.50 L248.26,1091.49 L248.69,1092.46 L249.11,1093.43 L249.53,1094.39 L249.96,1095.34 L250.38,1096.28 L250.80,1097.21 L251.23,1098.13 L251.65,1099.04 L252.07,1099.95 L252.50,1100.85 L252.92,1101.74 L253.35,1102.62 L253.77,1103.49 L254.19,1104.36 L254.62,1105.22 L255.04,1106.07 L255.46,1106.91 L255.89,1107.75 L259.04,1113.74 L262.19,1119.37 L265.34,1124.67 L268.49,1129.66 L271.64,1134.37 L274.79,1138.83 L277.94,1143.06 L281.09,1147.07 L284.24,1150.88 L287.40,1154.51 L290.55,1157.97 L293.70,1161.26 L296.85,1164.42 L300.00,1167.43 L303.15,1170.32 L306.30,1173.08 L309.45,1175.73 L312.60,1178.28 L315.75,1180.73 L318.90,1183.09 L322.06,1185.36 L325.21,1187.54 L328.36,1189.65 L331.51,1191.68 L334.66,1193.65 L337.81,1195.55 L340.96,1197.38 L344.11,1199.16 L347.26,1200.88 L350.41,1202.55 L353.56,1204.16 L356.72,1205.73 L359.87,1207.25 L363.02,1208.73 L366.17,1210.16 L369.32,1211.55 L372.47,1212.91 L375.62,1214.23 L378.77,1215.51 L381.92,1216.76 L385.07,1217.97 L388.22,1219.16 L391.38,1220.32 L394.53,1221.44 L397.68,1222.54 L400.83,1223.61 L403.98,1224.66 L407.13,1225.68 L410.28,1226.68 L413.43,1227.66 L416.58,1228.61 L419.73,1229.55 L422.88,1230.46 L426.04,1231.35 L429.19,1232.22 L432.34,1233.08 L435.49,1233.91 L438.64,1234.73 L441.79,1235.54 L444.94,1236.32 L448.09,1237.09 L451.24,1237.85 L454.39,1238.59 L457.54,1239.31 L460.70,1240.03 L463.85,1240.73 L467.00,1241.41 L470.15,1242.08 L473.30,1242.74 L476.45,1243.39 L479.60,1244.03 L482.75,1244.65 L485.90,1245.27 L489.05,1245.87 L492.20,1246.46 L495.36,1247.05 L498.51,1247.62 L501.66,1248.18 L504.81,1248.73 L507.96,1249.28 L511.11,1249.81 L514.26,1250.34 L517.41,1250.86 L520.56,1251.37 L523.71,1251.87 L526.86,1252.36 L530.02,1252.84 L533.17,1253.32 L536.32,1253.79 L539.47,1254.25 L542.62,1254.71 L545.77,1255.16 L548.92,1255.60 L552.07,1256.03 L555.22,1256.46 L558.37,1256.88 L561.52,1257.30 L564.68,1257.71 L567.83,1258.11 L570.98,1258.51 L574.13,1258.90 L577.28,1259.28 L580.43,1259.66 L583.58,1260.04 L586.73,1260.41 L589.88,1260.77 L593.03,1261.13 L596.19,1261.48 L599.34,1261.83 L602.49,1262.17 L605.64,1262.51 L608.79,1262.85 L611.94,1263.18 L615.09,1263.50 L618.24,1263.82 L621.39,1264.14 L624.54,1264.45 L627.69,1264.75 L630.85,1265.05 L634.00,1265.35 L637.15,1265.65 L640.30,1265.94 L643.45,1266.22 L646.60,1266.51 L649.75,1266.78 L652.90,1267.06 L656.05,1267.33 L659.20,1267.59 L662.35,1267.86 L665.51,1268.12 L668.66,1268.37 L671.81,1268.63 L674.96,1268.88 L678.11,1269.12 L681.26,1269.36 L684.41,1269.60 L687.56,1269.84 L690.71,1270.07 L693.86,1270.30 L697.01,1270.52 L700.17,1270.75 L703.32,1270.97 L706.47,1271.18 L709.62,1271.40 L712.77,1271.61 L715.92,1271.82 L719.07,1272.02 L722.22,1272.22 L725.37,1272.42 L728.52,1272.62 L731.67,1272.81 L734.83,1273.00 L737.98,1273.19 L741.13,1273.38 L744.28,1273.56 L747.43,1273.74 L750.58,1273.92 L753.73,1274.09 L756.88,1274.26 L760.03,1274.43 L763.18,1274.60 L766.33,1274.77 L769.49,1274.93 L772.64,1275.09 L775.79,1275.25 L778.94,1275.40 L782.09,1275.55 L785.24,1275.71 L788.39,1275.85 L791.54,1276.00 L794.69,1276.14 L797.84,1276.28 L800.99,1276.42 L804.15,1276.56 L807.30,1276.69 L810.45,1276.83 L813.60,1276.96 L816.75,1277.09 L819.90,1277.21 L823.05,1277.34 L826.20,1277.46 L829.35,1277.58 L832.50,1277.70 L835.65,1277.81 L838.81,1277.92 L841.96,1278.04 L845.11,1278.15 L848.26,1278.25 L851.41,1278.36 L854.56,1278.46 L857.71,1278.57 L860.86,1278.66 L864.01,1278.76 L867.16,1278.86 L870.31,1278.95 L873.47,1279.05 L876.62,1279.14 L879.77,1279.22 L882.92,1279.31" fill="none" stroke="#ff8000" stroke-width="7" stroke-linecap="round" stroke-linejoin="round"/>
<path d="M484.2,1200.7 L484.2,1332.2 M477.5,1200.7 L490.9,1200.7 M477.5,1332.2 L490.9,1332.2 M357.8,1265.9 L609.5,1265.9 M357.8,1259.2 L357.8,1272.6 M609.5,1259.2 L609.5,1272.6" fill="none" stroke="#000000" stroke-width="2.2" stroke-linecap="round"/>
<path d="M564.8,1193.4 L564.8,1278.7 M558.1,1193.4 L571.5,1193.4 M558.1,1278.7 L571.5,1278.7 M367.1,1236.5 L763.4,1236.5 M367.1,1229.8 L367.1,1243.2 M763.4,1229.8 L763.4,1243.2" fill="none" stroke="#ff0000" stroke-width="2.2" stroke-linecap="round"/>
<path d="M221.3,892.6 L221.3,1109.7 M215.0,892.6 L227.6,892.6 M215.0,1109.7 L227.6,1109.7 M210.3,1001.2 L232.2,1001.2 M210.3,994.9 L210.3,1007.5 M232.2,994.9 L232.2,1007.5" fill="none" stroke="#0000ff" stroke-width="2.2" stroke-linecap="round"/>
<path d="M205.49,863.59 L205.92,867.38 L206.34,871.11 L206.76,874.76 L207.19,878.35 L207.61,881.87 L208.03,885.33 L208.46,888.73 L208.88,892.07 L209.30,895.35 L209.73,898.57 L210.15,901.74 L210.57,904.86 L211.00,907.92 L211.42,910.93 L211.84,913.89 L212.27,916.80 L212.69,919.67 L213.11,922.48 L213.54,925.26 L213.96,927.98 L214.39,930.67 L214.81,933.31 L215.23,935.92 L215.66,938.48 L216.08,941.00 L216.50,943.49 L216.93,945.94 L217.35,948.35 L217.77,950.72 L218.20,953.07 L218.62,955.37 L219.04,957.65 L219.47,959.89 L219.89,962.10 L220.31,964.27 L220.74,966.42 L221.16,968.54 L221.58,970.63 L222.01,972.69 L222.43,974.72 L222.85,976.72 L223.28,978.70 L223.70,980.65 L224.13,982.58 L224.55,984.47 L224.97,986.35 L225.40,988.20 L225.82,990.03 L226.24,991.83 L226.67,993.61 L227.09,995.37 L227.51,997.10 L227.94,998.82 L228.36,1000.51 L228.78,1002.18 L229.21,1003.83 L229.63,1005.47 L230.05,1007.08 L230.48,1008.67 L230.90,1010.25 L231.32,1011.80 L231.75,1013.34 L232.17,1014.86 L232.59,1016.36 L233.02,1017.84 L233.44,1019.31 L233.87,1020.76 L234.29,1022.19 L234.71,1023.61 L235.14,1025.01 L235.56,1026.40 L235.98,1027.77 L236.41,1029.12 L236.83,1030.46 L237.25,1031.79 L237.68,1033.10 L238.10,1034.40 L238.52,1035.68 L238.95,1036.96 L239.37,1038.21 L239.79,1039.46 L240.22,1040.69 L240.64,1041.90 L241.06,1043.11 L241.49,1044.30 L241.91,1045.48 L242.33,1046.65 L242.76,1047.81 L243.18,1048.95 L243.61,1050.09 L244.03,1051.21 L244.45,1052.32 L244.88,1053.42 L245.30,1054.51 L245.72,1055.59 L246.15,1056.66 L246.57,1057.72 L246.99,1058.77 L247.42,1059.81 L247.84,1060.83 L248.26,1061.85 L248.69,1062.86 L249.11,1063.86 L249.53,1064.85 L249.96,1065.83 L250.38,1066.81 L250.80,1067.77 L251.23,1068.72 L251.65,1069.67 L252.07,1070.61 L252.50,1071.54 L252.92,1072.46 L253.35,1073.37 L253.77,1074.27 L254.19,1075.17 L254.62,1076.06 L255.04,1076.94 L255.46,1077.81 L255.89,1078.68 L259.04,1084.89 L262.19,1090.73 L265.34,1096.23 L268.49,1101.41 L271.64,1106.31 L274.79,1110.95 L277.94,1115.35 L281.09,1119.52 L284.24,1123.49 L287.40,1127.27 L290.55,1130.86 L293.70,1134.30 L296.85,1137.58 L300.00,1140.72 L303.15,1143.72 L306.30,1146.59 L309.45,1149.34 L312.60,1151.99 L315.75,1154.52 L318.90,1156.96 L322.06,1159.30 L325.21,1161.56 L328.36,1163.73 L331.51,1165.81 L334.66,1167.83 L337.81,1169.76 L340.96,1171.63 L344.11,1173.44 L347.26,1175.17 L350.41,1176.85 L353.56,1178.47 L356.72,1180.04 L359.87,1181.55 L363.02,1183.01 L366.17,1184.43 L369.32,1185.79 L372.47,1187.11 L375.62,1188.39 L378.77,1189.62 L381.92,1190.81 L385.07,1191.97 L388.22,1193.09 L391.38,1194.17 L394.53,1195.21 L397.68,1196.22 L400.83,1197.20 L403.98,1198.15 L407.13,1199.06 L410.28,1199.95 L413.43,1200.81 L416.58,1201.64 L419.73,1202.44 L422.88,1203.22 L426.04,1203.97 L429.19,1204.69 L432.34,1205.39 L435.49,1206.07 L438.64,1206.73 L441.79,1207.36 L444.94,1207.97 L448.09,1208.57 L451.24,1209.14 L454.39,1209.69 L457.54,1210.22 L460.70,1210.73 L463.85,1211.23 L467.00,1211.71 L470.15,1212.17 L473.30,1212.61 L476.45,1213.04 L479.60,1213.46 L482.75,1213.85 L485.90,1214.23 L489.05,1214.60 L492.20,1214.96 L495.36,1215.29 L498.51,1215.62 L501.66,1215.93 L504.81,1216.23 L507.96,1216.52 L511.11,1216.79 L514.26,1217.06 L517.41,1217.31 L520.56,1217.55 L523.71,1217.77 L526.86,1217.99 L530.02,1218.20 L533.17,1218.40 L536.32,1218.58 L539.47,1218.76 L542.62,1218.92 L545.77,1219.08 L548.92,1219.23 L552.07,1219.37 L555.22,1219.50 L558.37,1219.62 L561.52,1219.73 L564.68,1219.83 L567.83,1219.93 L570.98,1220.02 L574.13,1220.10 L577.28,1220.17 L580.43,1220.23 L583.58,1220.29 L586.73,1220.34 L589.88,1220.38 L593.03,1220.42 L596.19,1220.45 L599.34,1220.47 L602.49,1220.49 L605.64,1220.50 L608.79,1220.50 L611.94,1220.50 L615.09,1220.49 L618.24,1220.47 L621.39,1220.45 L624.54,1220.42 L627.69,1220.39 L630.85,1220.35 L634.00,1220.31 L637.15,1220.26 L640.30,1220.21 L643.45,1220.15 L646.60,1220.08 L649.75,1220.01 L652.90,1219.94 L656.05,1219.86 L659.20,1219.78 L662.35,1219.69 L665.51,1219.59 L668.66,1219.50 L671.81,1219.39 L674.96,1219.29 L678.11,1219.17 L681.26,1219.06 L684.41,1218.94 L687.56,1218.82 L690.71,1218.69 L693.86,1218.56 L697.01,1218.42 L700.17,1218.28 L703.32,1218.14 L706.47,1217.99 L709.62,1217.84 L712.77,1217.68 L715.92,1217.52 L719.07,1217.36 L722.22,1217.19 L725.37,1217.02 L728.52,1216.85 L731.67,1216.67 L734.83,1216.49 L737.98,1216.31 L741.13,1216.12 L744.28,1215.93 L747.43,1215.74 L750.58,1215.54 L753.73,1215.34 L756.88,1215.14 L760.03,1214.94 L763.18,1214.73 L766.33,1214.52 L769.49,1214.30 L772.64,1214.08 L775.79,1213.86 L778.94,1213.64 L782.09,1213.41 L785.24,1213.18 L788.39,1212.95 L791.54,1212.72 L794.69,1212.48 L797.84,1212.24 L800.99,1212.00 L804.15,1211.75 L807.30,1211.50 L810.45,1211.25 L813.60,1211.00 L816.75,1210.74 L819.90,1210.49 L823.05,1210.23 L826.20,1209.96 L829.35,1209.70 L832.50,1209.43 L835.65,1209.16 L838.81,1208.88 L841.96,1208.61 L845.11,1208.33 L848.26,1208.05 L851.41,1207.77 L854.56,1207.49 L857.71,1207.20 L860.86,1206.91 L864.01,1206.62 L867.16,1206.32 L870.31,1206.03 L873.47,1205.73 L876.62,1205.43 L879.77,1205.13 L882.92,1204.83" fill="none" stroke="#00ff00" stroke-width="2.9" stroke-linejoin="round"/>
<path d="M205.49,932.01 L205.92,935.68 L206.34,939.28 L206.76,942.81 L207.19,946.27 L207.61,949.67 L208.03,953.01 L208.46,956.29 L208.88,959.51 L209.30,962.67 L209.73,965.78 L210.15,968.83 L210.57,971.83 L211.00,974.77 L211.42,977.67 L211.84,980.52 L212.27,983.32 L212.69,986.07 L213.11,988.78 L213.54,991.44 L213.96,994.06 L214.39,996.64 L214.81,999.18 L215.23,1001.67 L215.66,1004.13 L216.08,1006.55 L216.50,1008.93 L216.93,1011.27 L217.35,1013.58 L217.77,1015.86 L218.20,1018.10 L218.62,1020.30 L219.04,1022.48 L219.47,1024.62 L219.89,1026.73 L220.31,1028.81 L220.74,1030.86 L221.16,1032.88 L221.58,1034.87 L222.01,1036.84 L222.43,1038.77 L222.85,1040.68 L223.28,1042.57 L223.70,1044.43 L224.13,1046.26 L224.55,1048.07 L224.97,1049.85 L225.40,1051.61 L225.82,1053.35 L226.24,1055.06 L226.67,1056.75 L227.09,1058.42 L227.51,1060.07 L227.94,1061.70 L228.36,1063.31 L228.78,1064.89 L229.21,1066.46 L229.63,1068.01 L230.05,1069.53 L230.48,1071.04 L230.90,1072.53 L231.32,1074.01 L231.75,1075.46 L232.17,1076.90 L232.59,1078.32 L233.02,1079.72 L233.44,1081.11 L233.87,1082.48 L234.29,1083.83 L234.71,1085.17 L235.14,1086.49 L235.56,1087.80 L235.98,1089.10 L236.41,1090.38 L236.83,1091.64 L237.25,1092.89 L237.68,1094.13 L238.10,1095.35 L238.52,1096.56 L238.95,1097.75 L239.37,1098.94 L239.79,1100.11 L240.22,1101.26 L240.64,1102.41 L241.06,1103.54 L241.49,1104.66 L241.91,1105.77 L242.33,1106.87 L242.76,1107.96 L243.18,1109.03 L243.61,1110.10 L244.03,1111.15 L244.45,1112.19 L244.88,1113.22 L245.30,1114.24 L245.72,1115.26 L246.15,1116.26 L246.57,1117.25 L246.99,1118.23 L247.42,1119.20 L247.84,1120.16 L248.26,1121.12 L248.69,1122.06 L249.11,1123.00 L249.53,1123.92 L249.96,1124.84 L250.38,1125.75 L250.80,1126.65 L251.23,1127.54 L251.65,1128.42 L252.07,1129.29 L252.50,1130.16 L252.92,1131.02 L253.35,1131.87 L253.77,1132.71 L254.19,1133.55 L254.62,1134.38 L255.04,1135.20 L255.46,1136.01 L255.89,1136.81 L259.04,1142.59 L262.19,1148.01 L265.34,1153.11 L268.49,1157.91 L271.64,1162.43 L274.79,1166.72 L277.94,1170.77 L281.09,1174.62 L284.24,1178.27 L287.40,1181.75 L290.55,1185.07 L293.70,1188.23 L296.85,1191.25 L300.00,1194.14 L303.15,1196.92 L306.30,1199.57 L309.45,1202.12 L312.60,1204.58 L315.75,1206.94 L318.90,1209.21 L322.06,1211.41 L325.21,1213.53 L328.36,1215.57 L331.51,1217.56 L334.66,1219.47 L337.81,1221.33 L340.96,1223.13 L344.11,1224.88 L347.26,1226.59 L350.41,1228.24 L353.56,1229.85 L356.72,1231.42 L359.87,1232.95 L363.02,1234.44 L366.17,1235.89 L369.32,1237.31 L372.47,1238.71 L375.62,1240.07 L378.77,1241.40 L381.92,1242.70 L385.07,1243.98 L388.22,1245.23 L391.38,1246.46 L394.53,1247.67 L397.68,1248.86 L400.83,1250.03 L403.98,1251.17 L407.13,1252.30 L410.28,1253.41 L413.43,1254.51 L416.58,1255.59 L419.73,1256.65 L422.88,1257.70 L426.04,1258.73 L429.19,1259.75 L432.34,1260.76 L435.49,1261.76 L438.64,1262.74 L441.79,1263.71 L444.94,1264.67 L448.09,1265.62 L451.24,1266.56 L454.39,1267.49 L457.54,1268.41 L460.70,1269.32 L463.85,1270.22 L467.00,1271.11 L470.15,1272.00 L473.30,1272.87 L476.45,1273.74 L479.60,1274.60 L482.75,1275.45 L485.90,1276.30 L489.05,1277.14 L492.20,1277.97 L495.36,1278.80 L498.51,1279.62 L501.66,1280.43 L504.81,1281.24 L507.96,1282.04 L511.11,1282.83 L514.26,1283.62 L517.41,1284.41 L520.56,1285.19 L523.71,1285.96 L526.86,1286.73 L530.02,1287.49 L533.17,1288.25 L536.32,1289.00 L539.47,1289.75 L542.62,1290.50 L545.77,1291.23 L548.92,1291.97 L552.07,1292.70 L555.22,1293.43 L558.37,1294.15 L561.52,1294.87 L564.68,1295.58 L567.83,1296.29 L570.98,1297.00 L574.13,1297.70 L577.28,1298.40 L580.43,1299.10 L583.58,1299.79 L586.73,1300.47 L589.88,1301.16 L593.03,1301.84 L596.19,1302.52 L599.34,1303.19 L602.49,1303.86 L605.64,1304.53 L608.79,1305.19 L611.94,1305.85 L615.09,1306.51 L618.24,1307.17 L621.39,1307.82 L624.54,1308.47 L627.69,1309.11 L630.85,1309.76 L634.00,1310.40 L637.15,1311.03 L640.30,1311.67 L643.45,1312.30 L646.60,1312.93 L649.75,1313.55 L652.90,1314.18 L656.05,1314.80 L659.20,1315.41 L662.35,1316.03 L665.51,1316.64 L668.66,1317.25 L671.81,1317.86 L674.96,1318.46 L678.11,1319.07 L681.26,1319.67 L684.41,1320.26 L687.56,1320.86 L690.71,1321.45 L693.86,1322.04 L697.01,1322.63 L700.17,1323.22 L703.32,1323.80 L706.47,1324.38 L709.62,1324.96 L712.77,1325.54 L715.92,1326.11 L719.07,1326.68 L722.22,1327.25 L725.37,1327.82 L728.52,1328.39 L731.67,1328.95 L734.83,1329.51 L737.98,1330.07 L741.13,1330.63 L744.28,1331.19 L747.43,1331.74 L750.58,1332.29 L753.73,1332.84 L756.88,1333.39 L760.03,1333.93 L763.18,1334.48 L766.33,1335.02 L769.49,1335.56 L772.64,1336.09 L775.79,1336.63 L778.94,1337.16 L782.09,1337.70 L785.24,1338.23 L788.39,1338.75 L791.54,1339.28 L794.69,1339.81 L797.84,1340.33 L800.99,1340.85 L804.15,1341.37 L807.30,1341.89 L810.45,1342.40 L813.60,1342.92 L816.75,1343.43 L819.90,1343.94 L823.05,1344.45 L826.20,1344.95 L829.35,1345.46 L832.50,1345.96 L835.65,1346.46 L838.81,1346.96 L841.96,1347.46 L845.11,1347.96 L848.26,1348.46 L851.41,1348.95 L854.56,1349.44 L857.71,1349.93 L860.86,1350.42 L864.01,1350.91 L867.16,1351.39 L870.31,1351.88 L873.47,1352.36 L876.62,1352.84 L879.77,1353.32 L882.92,1353.80" fill="none" stroke="#00ff00" stroke-width="2.9" stroke-linejoin="round"/>
<circle cx="205.7" cy="944.4" r="5.2" fill="#808000"/>
<circle cx="202.7" cy="994.4" r="5.2" fill="#808000"/>
<circle cx="279.8" cy="994" r="5.2" fill="#808000"/>
<circle cx="206.1" cy="1018.8" r="5.2" fill="#808000"/>
<circle cx="219.6" cy="1018.8" r="5.2" fill="#808000"/>
<circle cx="219.6" cy="1024.7" r="5.2" fill="#808000"/>
<circle cx="236.6" cy="1018.8" r="5.2" fill="#808000"/>
<circle cx="206.1" cy="1036.1" r="5.2" fill="#808000"/>
<circle cx="216.4" cy="1056.3" r="5.2" fill="#808000"/>
<circle cx="243.2" cy="1086.9" r="5.2" fill="#808000"/>
<circle cx="226.3" cy="1119.8" r="5.2" fill="#808000"/>
<circle cx="202.7" cy="1140.4" r="5.2" fill="#808000"/>
<circle cx="239.6" cy="1157.3" r="5.2" fill="#808000"/>
<circle cx="260.3" cy="1164.3" r="5.2" fill="#808000"/>
<circle cx="273.5" cy="1159.5" r="5.2" fill="#808000"/>
<circle cx="236.2" cy="1182.6" r="5.2" fill="#808000"/>
<circle cx="246.3" cy="1186" r="5.2" fill="#808000"/>
<circle cx="276.6" cy="1193.6" r="5.2" fill="#808000"/>
<circle cx="226.5" cy="1208.4" r="5.2" fill="#808000"/>
<circle cx="236.2" cy="1213.2" r="5.2" fill="#808000"/>
<circle cx="307" cy="1170.6" r="5.2" fill="#808000"/>
<circle cx="300.2" cy="1179.8" r="5.2" fill="#808000"/>
<circle cx="310.3" cy="1185.7" r="5.2" fill="#808000"/>
<circle cx="327.2" cy="1180.3" r="5.2" fill="#808000"/>
<circle cx="367.6" cy="1183.7" r="5.2" fill="#808000"/>
<circle cx="384.1" cy="1187.4" r="5.2" fill="#808000"/>
<circle cx="427.8" cy="1174.8" r="5.2" fill="#808000"/>
<circle cx="390.3" cy="1205.6" r="5.2" fill="#808000"/>
<circle cx="413.9" cy="1205.1" r="5.2" fill="#808000"/>
<circle cx="413.9" cy="1211.8" r="5.2" fill="#808000"/>
<circle cx="287" cy="1218.9" r="5.2" fill="#808000"/>
<circle cx="280" cy="1228.9" r="5.2" fill="#808000"/>
<circle cx="273.2" cy="1236.9" r="5.2" fill="#808000"/>
<circle cx="276.4" cy="1247.5" r="5.2" fill="#808000"/>
<circle cx="313.3" cy="1228.1" r="5.2" fill="#808000"/>
<circle cx="290.2" cy="1274.3" r="5.2" fill="#808000"/>
<circle cx="300.1" cy="1284.9" r="5.2" fill="#808000"/>
<circle cx="276.3" cy="1288.9" r="5.2" fill="#808000"/>
<circle cx="344" cy="1281.2" r="5.2" fill="#808000"/>
<circle cx="360.8" cy="1267.4" r="5.2" fill="#808000"/>
<circle cx="384.4" cy="1264.8" r="5.2" fill="#808000"/>
<circle cx="387.8" cy="1268.2" r="5.2" fill="#808000"/>
<circle cx="400.9" cy="1285.9" r="5.2" fill="#808000"/>
<circle cx="430.7" cy="1269.6" r="5.2" fill="#808000"/>
<circle cx="441.3" cy="1260.2" r="5.2" fill="#808000"/>
<circle cx="316.7" cy="1316.2" r="5.2" fill="#808000"/>
<circle cx="316.7" cy="1322.1" r="5.2" fill="#808000"/>
<circle cx="448.1" cy="1141.1" r="5.2" fill="#808000"/>
<circle cx="464.9" cy="1236" r="5.2" fill="#808000"/>
<circle cx="508.5" cy="1274.1" r="5.2" fill="#808000"/>
<circle cx="474.9" cy="1289.8" r="5.2" fill="#808000"/>
<circle cx="589.2" cy="1263" r="5.2" fill="#808000"/>
<circle cx="595.8" cy="1302.4" r="5.2" fill="#808000"/>
<circle cx="445" cy="1343.9" r="5.2" fill="#808000"/>
<circle cx="763.4" cy="1270.5" r="5.2" fill="#808000"/>
<rect x="693.3" y="36.3" width="227.10000000000002" height="355.09999999999997" fill="#fff" stroke="#3a3a3a" stroke-width="1.25"/>
<circle cx="738.8" cy="65.9" r="12.6" fill="#000000"/>
<text x="781.6" y="76.7" font-size="30.6">Beijing</text>
<circle cx="738.8" cy="103.3" r="12.6" fill="#ff0000"/>
<text x="781.6" y="114.1" font-size="30.6">BTH</text>
<circle cx="738.8" cy="140.6" r="12.6" fill="#0000ff"/>
<text x="781.6" y="151.4" font-size="30.6">Shanghai</text>
<circle cx="738.8" cy="178.0" r="12.6" fill="#008080"/>
<text x="781.6" y="188.8" font-size="30.6">YRD</text>
<circle cx="738.8" cy="215.3" r="12.6" fill="#00ff00"/>
<text x="781.6" y="226.1" font-size="30.6">KCOG</text>
<circle cx="738.8" cy="252.7" r="12.6" fill="#ff00ff"/>
<text x="781.6" y="263.5" font-size="30.6">PRD</text>
<circle cx="738.8" cy="290.1" r="12.6" fill="#808000"/>
<text x="781.6" y="300.9" font-size="30.6">SC</text>
<line x1="705" y1="327.4" x2="772" y2="327.4" stroke="#ff8000" stroke-width="7" stroke-linecap="round"/>
<text x="781.6" y="338.2" font-size="30.6">fit E. Asia</text>
<line x1="704.5" y1="364.8" x2="773.5" y2="364.8" stroke="#00ff00" stroke-width="2.9" stroke-linecap="round"/>
<text x="781.6" y="375.6" font-size="30.6">95% CI</text>
<rect x="684.4" y="785.3" width="232.80000000000007" height="243.60000000000014" fill="#fff" stroke="#3a3a3a" stroke-width="1.25"/>
<circle cx="729.6" cy="816.6" r="10.5" fill="none" stroke="#000" stroke-width="5.2"/>
<text x="771.8" y="827.4" font-size="30.6">Delhi</text>
<path d="M729.6,839.0 L743.6,864.0 L715.6,864.0 Z" fill="none" stroke="#ff0000" stroke-width="4.2" stroke-linejoin="round"/>
<text x="771.8" y="864.8" font-size="30.6">BCOB</text>
<path d="M729.6,876.4 L743.6,901.4 L715.6,901.4 Z" fill="none" stroke="#0000ff" stroke-width="4.2" stroke-linejoin="round"/>
<text x="771.8" y="902.2" font-size="30.6">MCOH</text>
<circle cx="729.6" cy="928.8" r="9.7" fill="#808000"/>
<text x="771.8" y="939.6" font-size="30.6">E. Asia</text>
<line x1="696.5" y1="966.2" x2="762.3" y2="966.2" stroke="#ff8000" stroke-width="7" stroke-linecap="round"/>
<text x="771.8" y="977.0" font-size="30.6" xml:space="preserve">fit  S. Asia</text>
<line x1="696" y1="1003.6" x2="763" y2="1003.6" stroke="#00ff00" stroke-width="2.9" stroke-linecap="round"/>
<text x="771.8" y="1014.4" font-size="30.6">95% CI</text>
</g></svg>
</body></html>
